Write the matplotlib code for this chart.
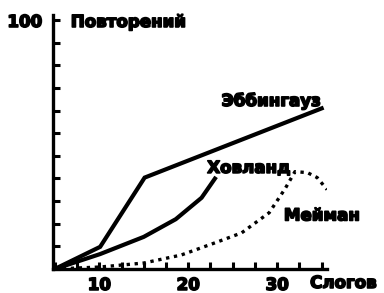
import matplotlib.pyplot as plt
import matplotlib.patheffects as pe
import numpy as np

plt.rcParams['font.family'] = ['DejaVu Sans']
plt.rcParams['font.weight'] = 'bold'

# Кривые заучивания (слоги -> повторения)
ebb_x = [5, 10.1, 15.1, 35.0]
ebb_y = [0, 8.9, 36.7, 64.5]

hov_x = [5, 10.1, 15.0, 18.6, 21.5, 23.0]
hov_y = [0, 6.0, 12.9, 20.0, 28.6, 36.3]

mei_x = [5, 10.1, 15.0, 19.2, 23.0, 26.0, 29.1, 30.9, 32.0, 33.4, 34.5, 35.6]
mei_y = [0, 0.8, 2.4, 5.6, 10.5, 14.5, 22.6, 32.3, 39.1, 38.7, 36.7, 31.9]

fig = plt.figure(figsize=(3.84, 2.93), dpi=100)
ax = fig.add_axes([53/384, (293-269)/293, (327-53)/384, (269-15)/293])

ax.plot(ebb_x, ebb_y, color='black', lw=3.0, solid_joinstyle='miter')
ax.plot(hov_x, hov_y, color='black', lw=3.0)
ax.plot(mei_x, mei_y, color='black', lw=2.4, linestyle=(0, (1, 1.4)))

ax.set_xlim(4.8, 35.6)
ax.set_ylim(0, 102)

for s in ['top', 'right']:
    ax.spines[s].set_visible(False)
for s in ['left', 'bottom']:
    ax.spines[s].set_linewidth(2.4)

fat = [pe.withStroke(linewidth=1.2, foreground='black')]
fs = 12

yt = np.linspace(0, 100, 12)
ax.set_yticks(yt)
ax.set_yticklabels([''] * 11 + ['100'])
ax.tick_params(axis='y', direction='in', length=5, width=2.2, pad=8,
               labelsize=fs)
ax.set_xticks([10, 20, 30])
ax.set_xticklabels(['10', '20', '30'])
ax.set_xticks(np.arange(5, 36, 2.5), minor=True)
ax.tick_params(axis='x', which='both', direction='in', length=5, width=2.2,
               pad=5, labelsize=fs)
for lab in ax.get_xticklabels() + ax.get_yticklabels():
    lab.set_path_effects(fat)

ax.text(6.8, 99.2, 'Повторений', fontsize=fs, va='center', ha='left',
        clip_on=False, path_effects=fat)
ax.text(29.3, 67.5, 'Эббингауз', fontsize=fs, va='center', ha='center',
        path_effects=fat)
ax.text(26.8, 40.6, 'Ховланд', fontsize=fs, va='center', ha='center',
        path_effects=fat)
ax.text(35.0, 21.5, 'Мейман', fontsize=fs, va='center', ha='center',
        clip_on=False, path_effects=fat)
ax.text(33.7, -5.6, 'Слогов', fontsize=fs, va='center', ha='left',
        clip_on=False, path_effects=fat)

fig.savefig('out.png', dpi=100)
